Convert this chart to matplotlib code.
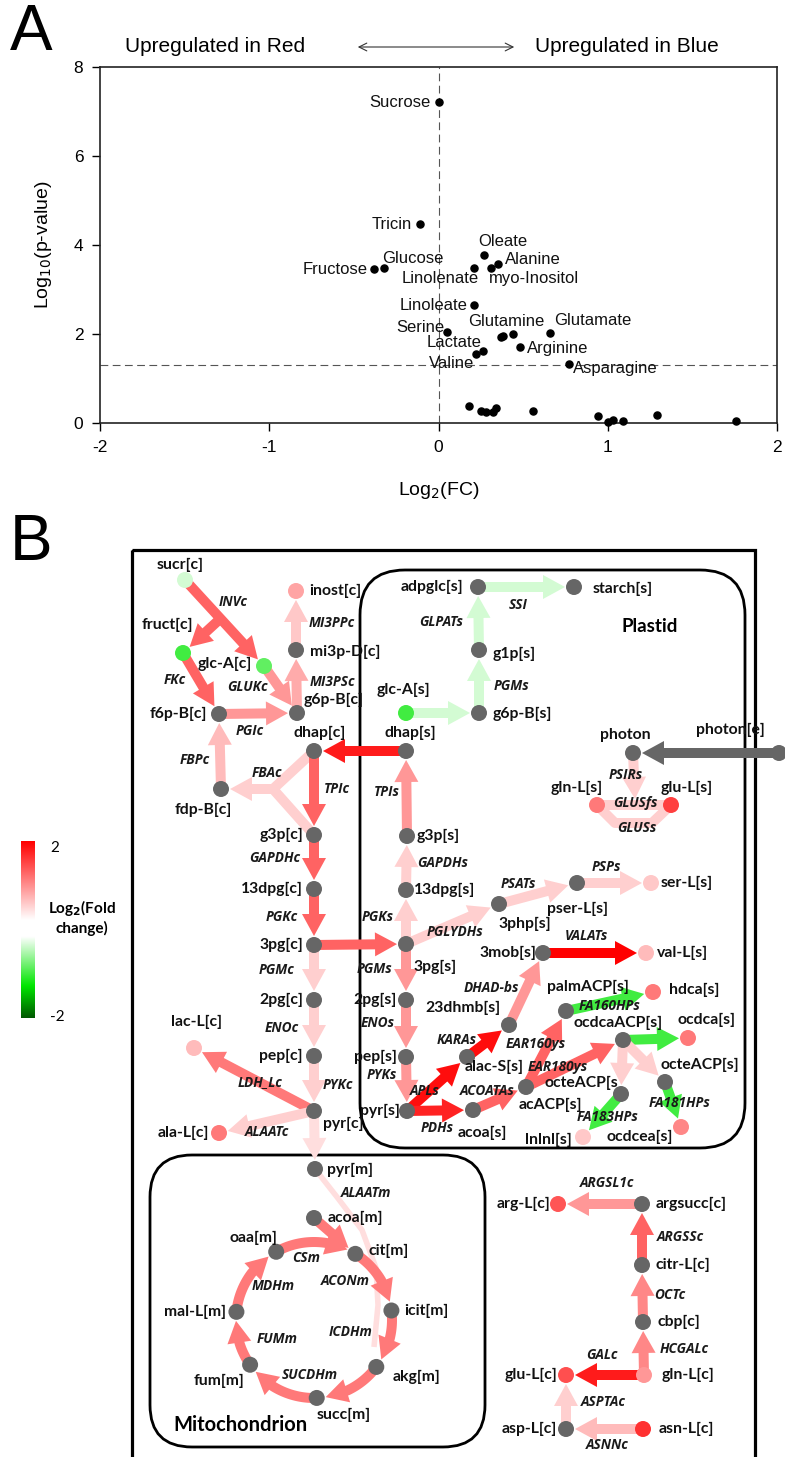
import numpy as np
import matplotlib
matplotlib.use('Agg')
import matplotlib.pyplot as plt
from matplotlib.colors import LinearSegmentedColormap, Normalize
from matplotlib.patches import Circle, Polygon, Rectangle, FancyBboxPatch

# ---------------- Panel A : volcano data ----------------
named = ['Sucrose', 'Tricin', 'Fructose', 'Glucose', 'Oleate', 'Alanine',
         'myo-Inositol', 'Linolenate', 'Linoleate', 'Serine', 'Glutamine',
         'Glutamate', 'Arginine', 'Lactate', 'Valine', 'Asparagine']
named_fc = [0.0, -0.11, -0.38, -0.32, 0.27, 0.35, 0.31, 0.21, 0.21, 0.05,
            0.38, 0.66, 0.48, 0.265, 0.22, 0.77]
named_p = [7.21, 4.47, 3.46, 3.48, 3.78, 3.57, 3.48, 3.48, 2.65, 2.04,
           1.96, 2.02, 1.71, 1.62, 1.55, 1.33]
other_fc = [0.37, 0.44, 0.18, 0.25, 0.28, 0.32, 0.34, 0.56, 0.94, 1.0,
            1.03, 1.09, 1.29, 1.76]
other_p = [1.93, 2.0, 0.38, 0.27, 0.24, 0.25, 0.33, 0.27, 0.16, 0.02,
           0.07, 0.05, 0.19, 0.04]
p_cut = 1.3

# label offsets (pixels, dx right / dy up) and alignment
lab_off = {'Sucrose': (-8, 0, 'right'), 'Tricin': (-8, 0, 'right'),
           'Fructose': (-7, 0, 'right'), 'Glucose': (-2, 10, 'left'),
           'Oleate': (19, 13, 'center'), 'Alanine': (7, 5, 'left'),
           'myo-Inositol': (-2, -10, 'left'), 'Linolenate': (-34, -10, 'center'),
           'Linoleate': (-7, 0, 'right'), 'Serine': (-3, 5, 'right'),
           'Glutamine': (3, 14, 'center'), 'Glutamate': (4, 13, 'left'),
           'Arginine': (7, -2, 'left'), 'Lactate': (-2, 8, 'right'),
           'Valine': (-2, -9, 'right'), 'Asparagine': (4, -5, 'left')}

# ---------------- Panel B : network data ----------------
# metabolite log2 fold changes (None = not measured, grey)
node_fc = {
    'sucr[c]': -0.35, 'fruct[c]': -1.0, 'glc-A[c]': -0.85, 'inost[c]': 0.85,
    'mi3p-D[c]': None, 'g6p-B[c]': None, 'f6p-B[c]': None, 'fdp-B[c]': None,
    'dhap[c]': None, 'dhap[s]': None, 'g3p[c]': None, '13dpg[c]': None,
    '3pg[c]': None, '2pg[c]': None, 'pep[c]': None, 'pyr[c]': None,
    'lac-L[c]': 0.7, 'ala-L[c]': 1.15, 'glc-A[s]': -1.0, 'adpglc[s]': None,
    'starch[s]': None, 'g1p[s]': None, 'g6p-B[s]': None, 'photon': None,
    'photon[e]': None, 'gln-L[s]': 1.15, 'glu-L[s]': 1.55, 'g3p[s]': None,
    '13dpg[s]': None, '3pg[s]': None, '2pg[s]': None, 'pep[s]': None,
    'pyr[s]': None, '3php[s]': None, 'pser-L[s]': None, 'ser-L[s]': 0.6,
    '3mob[s]': None, 'val-L[s]': 0.7, '23dhmb[s]': None, 'alac-S[s]': None,
    'acoa[s]': None, 'acACP[s]': None, 'palmACP[s]': None, 'hdca[s]': 1.15,
    'ocdcaACP[s]': None, 'ocdca[s]': 1.15, 'octeACP[s]': None,
    'octeACP[s': None, 'lnlnl[s]': 0.6, 'ocdcea[s]': 1.05,
    'pyr[m]': None, 'acoa[m]': None, 'oaa[m]': None, 'cit[m]': None,
    'icit[m]': None, 'akg[m]': None, 'succ[m]': None, 'fum[m]': None,
    'mal-L[m]': None, 'arg-L[c]': 1.4, 'argsucc[c]': None, 'citr-L[c]': None,
    'cbp[c]': None, 'gln-L[c]': 0.95, 'glu-L[c]': 1.45, 'asp-L[c]': None,
    'asn-L[c]': 1.65}

# reactions: (label, path of metabolites / waypoints, flux log2 fold change, arrow head)
reactions = [
    ('INVc', ['sucr[c]', 'glc-A[c]'], 1.3, True),
    ('', [(220, 619), 'fruct[c]'], 1.3, True),
    ('FKc', ['fruct[c]', 'f6p-B[c]'], 1.3, True),
    ('GLUKc', ['glc-A[c]', 'g6p-B[c]'], 0.95, True),
    ('PGIc', ['f6p-B[c]', 'g6p-B[c]'], 0.95, True),
    ('MI3PSc', ['g6p-B[c]', 'mi3p-D[c]'], 0.8, True),
    ('MI3PPc', ['mi3p-D[c]', 'inost[c]'], 0.6, True),
    ('FBPc', ['fdp-B[c]', 'f6p-B[c]'], 0.7, True),
    ('', ['dhap[c]', (273, 789)], 0.55, False),
    ('', ['g3p[c]', (273, 789)], 0.55, False),
    ('FBAc', [(273, 789), 'fdp-B[c]'], 0.55, True),
    ('TPIc', ['dhap[c]', 'g3p[c]'], 1.3, True),
    ('', ['dhap[s]', 'dhap[c]'], 1.8, True),
    ('TPIs', ['g3p[s]', 'dhap[s]'], 0.95, True),
    ('GLPATs', ['g1p[s]', 'adpglc[s]'], -0.35, True),
    ('SSI', ['adpglc[s]', 'starch[s]'], -0.35, True),
    ('PGMs', ['g6p-B[s]', 'g1p[s]'], -0.35, True),
    ('', ['glc-A[s]', 'g6p-B[s]'], -0.35, True),
    ('', ['photon[e]', 'photon'], None, True),
    ('PSIRs', ['photon', (635, 799)], 0.55, True),
    ('GLUSfs', ['gln-L[s]', 'glu-L[s]'], 0.55, False),
    ('GLUSs', ['gln-L[s]', (615, 823), (652, 823), 'glu-L[s]'], 0.55, False),
    ('GAPDHc', ['g3p[c]', '13dpg[c]'], 1.3, True),
    ('PGKc', ['13dpg[c]', '3pg[c]'], 1.3, True),
    ('PGMc', ['3pg[c]', '2pg[c]'], 0.55, True),
    ('ENOc', ['2pg[c]', 'pep[c]'], 0.55, True),
    ('PYKc', ['pep[c]', 'pyr[c]'], 0.55, True),
    ('LDH_Lc', ['pyr[c]', 'lac-L[c]'], 1.15, True),
    ('ALAATc', ['pyr[c]', 'ala-L[c]'], 0.55, True),
    ('', ['3pg[c]', '3pg[s]'], 1.3, True),
    ('GAPDHs', ['13dpg[s]', 'g3p[s]'], 0.55, True),
    ('PGKs', ['3pg[s]', '13dpg[s]'], 0.55, True),
    ('PGLYDHs', ['3pg[s]', '3php[s]'], 0.55, True),
    ('PSATs', ['3php[s]', 'pser-L[s]'], 0.55, True),
    ('PSPs', ['pser-L[s]', 'ser-L[s]'], 0.55, True),
    ('PGMs ', ['3pg[s]', '2pg[s]'], 0.95, True),
    ('ENOs', ['2pg[s]', 'pep[s]'], 0.95, True),
    ('PYKs', ['pep[s]', 'pyr[s]'], 0.95, True),
    ('APLs', ['pyr[s]', 'alac-S[s]'], 1.9, True),
    ('KARAs', ['alac-S[s]', '23dhmb[s]'], 1.9, True),
    ('DHAD-bs', ['23dhmb[s]', '3mob[s]'], 0.95, True),
    ('VALATs', ['3mob[s]', 'val-L[s]'], 2.0, True),
    ('PDHs', ['pyr[s]', 'acoa[s]'], 1.75, True),
    ('ACOATAs', ['acoa[s]', 'acACP[s]'], 1.3, True),
    ('EAR160ys', ['acACP[s]', 'palmACP[s]'], 1.3, True),
    ('EAR180ys', ['acACP[s]', 'ocdcaACP[s]'], 1.3, True),
    ('FA160HPs', ['palmACP[s]', 'hdca[s]'], -1.0, True),
    ('', ['ocdcaACP[s]', 'ocdca[s]'], -1.0, True),
    ('', ['ocdcaACP[s]', 'octeACP[s'], 0.55, True),
    ('', ['ocdcaACP[s]', 'octeACP[s]'], 0.55, True),
    ('FA181HPs', ['octeACP[s]', 'ocdcea[s]'], -1.0, True),
    ('FA183HPs', ['octeACP[s', 'lnlnl[s]'], -1.0, True),
    ('', ['pyr[c]', 'pyr[m]'], 0.45, True),
    ('', ['acoa[m]', 'cit[m]'], 1.15, True),
    ('ARGSL1c', ['argsucc[c]', 'arg-L[c]'], 0.95, True),
    ('ARGSSc', ['citr-L[c]', 'argsucc[c]'], 1.3, True),
    ('OCTc', ['cbp[c]', 'citr-L[c]'], 1.05, True),
    ('HCGALc', ['gln-L[c]', 'cbp[c]'], 1.05, True),
    ('GALc', ['gln-L[c]', 'glu-L[c]'], 1.8, True),
    ('ASPTAc', ['asp-L[c]', 'glu-L[c]'], 0.55, True),
    ('ASNNc', ['asn-L[c]', 'asp-L[c]'], 0.7, True),
]
alaatm = ('ALAATm', ['pyr[m]', (337, 1197), (362, 1230), (376, 1268),
                     (378, 1305), (374, 1347)], 0.45)

# TCA cycle, metabolites in order round the ring
tca_nodes = ['oaa[m]', 'cit[m]', 'icit[m]', 'akg[m]', 'succ[m]', 'fum[m]', 'mal-L[m]']
tca_fc = 1.15

# ---------------- layout (pixel positions) ----------------
layout = {
    'sucr[c]': (185, 580), 'fruct[c]': (183, 653), 'glc-A[c]': (264, 666),
    'inost[c]': (296, 591), 'mi3p-D[c]': (296, 650), 'g6p-B[c]': (297, 713),
    'f6p-B[c]': (219, 714), 'fdp-B[c]': (221, 789), 'dhap[c]': (314, 751),
    'dhap[s]': (406, 751), 'g3p[c]': (314, 835), '13dpg[c]': (314, 889),
    '3pg[c]': (314, 945), '2pg[c]': (314, 1000), 'pep[c]': (314, 1056),
    'pyr[c]': (314, 1111), 'lac-L[c]': (194, 1048), 'ala-L[c]': (219, 1133),
    'glc-A[s]': (406, 713), 'adpglc[s]': (478, 587), 'starch[s]': (574, 587),
    'g1p[s]': (479, 650), 'g6p-B[s]': (479, 713), 'photon': (633, 753),
    'photon[e]': (779, 753), 'gln-L[s]': (597, 805), 'glu-L[s]': (671, 805),
    'g3p[s]': (407, 836), '13dpg[s]': (406, 890), '3pg[s]': (406, 944),
    '2pg[s]': (406, 1000), 'pep[s]': (406, 1057), 'pyr[s]': (407, 1111),
    '3php[s]': (499, 904), 'pser-L[s]': (577, 883), 'ser-L[s]': (651, 883),
    '3mob[s]': (543, 953), 'val-L[s]': (646, 953), '23dhmb[s]': (509, 1025),
    'alac-S[s]': (467, 1057), 'acoa[s]': (473, 1110), 'acACP[s]': (526, 1087),
    'palmACP[s]': (566, 1011), 'hdca[s]': (653, 992), 'ocdcaACP[s]': (623, 1040),
    'ocdca[s]': (688, 1038), 'octeACP[s]': (665, 1082), 'octeACP[s': (621, 1094),
    'lnlnl[s]': (583, 1137), 'ocdcea[s]': (681, 1127), 'pyr[m]': (315, 1169),
    'acoa[m]': (314, 1218), 'arg-L[c]': (558, 1204), 'argsucc[c]': (642, 1204),
    'citr-L[c]': (642, 1265), 'cbp[c]': (643, 1322), 'gln-L[c]': (644, 1375),
    'glu-L[c]': (566, 1375), 'asp-L[c]': (566, 1429), 'asn-L[c]': (643, 1429)}
tca_center = np.array([314.0, 1320.0])
tca_r = 78.0
tca_ang = np.radians([-119, -58, -7, 37, 88, 145, 186])
for n, a in zip(tca_nodes, tca_ang):
    layout[n] = tuple(tca_center + tca_r * np.array([np.cos(a), np.sin(a)]))

node_lab = {
    'sucr[c]': (-5, -15, 'center'), 'fruct[c]': (-16, -28, 'center'),
    'glc-A[c]': (-12, -2, 'right'), 'inost[c]': (13, 0, 'left'),
    'mi3p-D[c]': (14, 2, 'left'), 'g6p-B[c]': (7, -13, 'left'),
    'f6p-B[c]': (-12, 0, 'right'), 'fdp-B[c]': (-18, 21, 'center'),
    'dhap[c]': (6, -18, 'center'), 'dhap[s]': (4, -18, 'center'),
    'g3p[c]': (-11, 0, 'right'), '13dpg[c]': (-11, 0, 'right'),
    '3pg[c]': (-11, 0, 'right'), '2pg[c]': (-11, 0, 'right'),
    'pep[c]': (-11, 0, 'right'), 'pyr[c]': (29, 13, 'center'),
    'lac-L[c]': (3, -26, 'center'), 'ala-L[c]': (-10, 0, 'right'),
    'glc-A[s]': (-3, -23, 'center'), 'adpglc[s]': (-15, 0, 'right'),
    'starch[s]': (19, 2, 'left'), 'g1p[s]': (14, 4, 'left'),
    'g6p-B[s]': (14, 1, 'left'), 'photon': (-8, -18, 'center'),
    'photon[e]': (-49, -23, 'center'), 'gln-L[s]': (-20, -17, 'center'),
    'glu-L[s]': (16, -17, 'center'), 'g3p[s]': (10, 0, 'left'),
    '13dpg[s]': (8, 0, 'left'), '3pg[s]': (7, 23, 'left'),
    '2pg[s]': (-9, 0, 'right'), 'pep[s]': (-9, 0, 'right'),
    'pyr[s]': (-7, 0, 'right'), '3php[s]': (26, 20, 'center'),
    'pser-L[s]': (0, 26, 'center'), 'ser-L[s]': (10, 0, 'left'),
    '3mob[s]': (-7, 0, 'right'), 'val-L[s]': (11, 0, 'left'),
    '23dhmb[s]': (-46, -17, 'center'), 'alac-S[s]': (27, 10, 'center'),
    'acoa[s]': (9, 23, 'center'), 'acACP[s]': (24, 18, 'center'),
    'palmACP[s]': (22, -24, 'center'), 'hdca[s]': (16, -2, 'left'),
    'ocdcaACP[s]': (-5, -17, 'center'), 'ocdca[s]': (19, -18, 'center'),
    'octeACP[s]': (35, -17, 'center'), 'octeACP[s': (-3, -11, 'right'),
    'lnlnl[s]': (-11, 3, 'right'), 'ocdcea[s]': (-41, 10, 'center'),
    'pyr[m]': (12, 1, 'left'), 'acoa[m]': (14, 0, 'left'),
    'cit[m]': (13, -3, 'left'), 'oaa[m]': (-23, -14, 'center'),
    'icit[m]': (13, 0, 'left'), 'akg[m]': (40, 10, 'center'),
    'succ[m]': (27, 17, 'center'), 'fum[m]': (-31, 16, 'center'),
    'mal-L[m]': (-10, 0, 'right'), 'arg-L[c]': (-8, 0, 'right'),
    'argsucc[c]': (14, 0, 'left'), 'citr-L[c]': (14, 0, 'left'),
    'cbp[c]': (14, 0, 'left'), 'gln-L[c]': (18, 0, 'left'),
    'glu-L[c]': (-9, 0, 'right'), 'asp-L[c]': (-9, 0, 'right'),
    'asn-L[c]': (16, 0, 'left')}

rxn_lab = {
    'INVc': (233, 602), 'FKc': (175, 680), 'GLUKc': (247, 687), 'PGIc': (250, 731),
    'MI3PSc': (332, 682), 'MI3PPc': (332, 623), 'FBPc': (195, 760), 'FBAc': (267, 773),
    'TPIc': (337, 789), 'TPIs': (387, 792), 'GLPATs': (441, 622), 'SSI': (518, 605),
    'PGMs': (512, 686), 'PSIRs': (626, 775), 'GLUSfs': (635, 803), 'GLUSs': (637, 828),
    'GAPDHc': (275, 858), 'PGKc': (282, 917), 'PGMc': (277, 970), 'ENOc': (282, 1028),
    'PYKc': (338, 1085), 'LDH_Lc': (260, 1082), 'ALAATc': (267, 1132),
    'GAPDHs': (443, 863), 'PGKs': (378, 917), 'PGLYDHs': (455, 932), 'PSATs': (518, 884),
    'PSPs': (606, 867), 'PGMs ': (375, 969), 'ENOs': (378, 1023), 'PYKs': (382, 1075),
    'APLs': (425, 1091), 'KARAs': (457, 1040), 'DHAD-bs': (491, 988),
    'VALATs': (586, 936), 'PDHs': (437, 1128), 'ACOATAs': (487, 1091),
    'EAR160ys': (536, 1044), 'EAR180ys': (558, 1067), 'FA160HPs': (610, 1006),
    'FA181HPs': (680, 1103), 'FA183HPs': (608, 1117), 'ALAATm': (366, 1193),
    'CSm': (306, 1258), 'ACONm': (345, 1281), 'ICDHm': (351, 1332),
    'SUCDHm': (310, 1375), 'FUMm': (277, 1339), 'MDHm': (273, 1286),
    'ARGSL1c': (607, 1183), 'ARGSSc': (680, 1237), 'OCTc': (670, 1295),
    'HCGALc': (684, 1349), 'GALc': (602, 1355), 'ASPTAc': (603, 1402),
    'ASNNc': (607, 1445)}

# colour scale for log2 fold change
fc_cmap = LinearSegmentedColormap.from_list(
    'fc', [(0, '#005800'), (0.18, '#00e600'), (0.46, '#ffffff'),
           (0.555, '#ffffff'), (1, '#ff0000')])
fc_norm = Normalize(-2, 2)
GREY = '#666666'
R_NODE = 8


def fc_color(v):
    if v is None:
        return GREY
    return fc_cmap(fc_norm(v))


def fat_arrow(ax, pts, color, head=True, w=10, hw=24, hl=22, z=2):
    pts = np.asarray(pts, float)
    if head:
        seg = np.diff(pts, axis=0)
        lens = np.hypot(seg[:, 0], seg[:, 1])
        remain = hl
        i = len(seg) - 1
        while i > 0 and lens[i] < remain:
            remain -= lens[i]
            i -= 1
        base = pts[i + 1] - seg[i] / lens[i] * remain
        tip = pts[-1]
        d = (tip - base) / np.hypot(*(tip - base))
        nrm = np.array([-d[1], d[0]])
        ax.add_patch(Polygon([base + nrm * hw / 2, tip, base - nrm * hw / 2],
                             closed=True, fc=color, ec='none', zorder=z))
        shaft = np.vstack([pts[:i + 1], base + d * 1.5])
    else:
        shaft = pts
    ax.plot(shaft[:, 0], shaft[:, 1], color=color, lw=w * 0.72,
            solid_capstyle='butt', solid_joinstyle='round', zorder=z)


def path_points(path, head):
    pts = [np.array(layout[p] if isinstance(p, str) else p, float) for p in path]
    if head and isinstance(path[-1], str):
        u = pts[-1] - pts[-2]
        u /= np.hypot(*u)
        pts[-1] = pts[-1] - u * (R_NODE + 1)
    return pts


plt.rcParams['font.family'] = ['Liberation Sans', 'DejaVu Sans']
plt.rcParams['axes.unicode_minus'] = False
fig = plt.figure(figsize=(7.85, 14.57), dpi=100)

# full-figure canvas in pixel units for panel B and headings
axB = fig.add_axes([0, 0, 1, 1])
axB.set_xlim(0, 785)
axB.set_ylim(1457, 0)
axB.axis('off')

# ---------------- Panel A ----------------
axA = fig.add_axes([100 / 785, 1 - 423 / 1457, 677 / 785, 356 / 1457])
axA.axvline(0, color='#555555', lw=0.8, dashes=(7, 4), zorder=1)
axA.axhline(p_cut, color='#555555', lw=0.8, dashes=(7, 4), zorder=1)
axA.scatter(named_fc, named_p, s=26, color='black', zorder=3, clip_on=False)
axA.scatter(other_fc, other_p, s=26, color='black', zorder=3, clip_on=False)
for n, x, y in zip(named, named_fc, named_p):
    dx, dy, ha = lab_off[n]
    axA.annotate(n, (x, y), xytext=(dx * 0.72, dy * 0.72), textcoords='offset points',
                 ha=ha, va='center', fontsize=12, color='#111111', zorder=4)
axA.set_xlim(-2, 2)
axA.set_ylim(0, 8)
axA.set_xticks([-2, -1, 0, 1, 2])
axA.set_yticks([0, 2, 4, 6, 8])
axA.tick_params(direction='out', length=6, width=1, labelsize=12.5, pad=6)
for s in axA.spines.values():
    s.set_linewidth(1.2)
    s.set_color('#222222')
axA.set_xlabel('Log$_2$(FC)', fontsize=14, labelpad=18)
axA.set_ylabel('Log$_{10}$(p-value)', fontsize=14, labelpad=14)

axB.text(10, 33, 'A', fontsize=46, ha='left', va='center')
axB.text(215, 47, 'Upregulated in Red', fontsize=15, ha='center', va='center')
axB.text(627, 47, 'Upregulated in Blue', fontsize=15, ha='center', va='center')
axB.annotate('', xy=(517, 47), xytext=(355, 47),
             arrowprops=dict(arrowstyle='<->', lw=0.8, color='#333333',
                             mutation_scale=14))

# ---------------- Panel B ----------------
axB.text(10, 543, 'B', fontsize=46, ha='left', va='center')
axB.add_patch(Rectangle((132, 550), 623, 1000, fill=False, ec='black', lw=2.3, zorder=1))
axB.add_patch(FancyBboxPatch((360, 570), 385, 578, boxstyle='round,pad=0,rounding_size=45',
                             fill=False, ec='black', lw=2.0, zorder=1))
axB.add_patch(FancyBboxPatch((150, 1155), 335, 292, boxstyle='round,pad=0,rounding_size=42',
                             fill=False, ec='black', lw=2.0, zorder=1))

bfont = ['Lato', 'DejaVu Sans']
rfont = ['Open Sans', 'DejaVu Sans']
axB.text(650, 626, 'Plastid', fontsize=13.5, weight='bold', family=bfont,
         ha='center', va='center', zorder=5)
axB.text(240, 1425, 'Mitochondrion', fontsize=14.5, weight='bold', family=bfont,
         ha='center', va='center', zorder=5)

for lab, path, v, head in reactions:
    fat_arrow(axB, path_points(path, head), fc_color(v), head=head)

lab, path, v = alaatm
axB.plot(*np.array(path_points(path, False)).T, color=fc_color(v), lw=4, zorder=1.8,
         solid_capstyle='butt')

# TCA arcs
dth = (R_NODE + 1) / tca_r
for k in range(len(tca_nodes)):
    a1 = tca_ang[k]
    a2 = tca_ang[(k + 1) % len(tca_nodes)]
    if a2 < a1:
        a2 += 2 * np.pi
    th = np.linspace(a1, a2 - dth, 40)
    arc = tca_center + tca_r * np.column_stack([np.cos(th), np.sin(th)])
    fat_arrow(axB, arc, fc_color(tca_fc))

for n, v in node_fc.items():
    x, y = layout[n]
    axB.add_patch(Circle((x, y), R_NODE, fc=fc_color(v), ec='none', zorder=3))
    dx, dy, ha = node_lab[n]
    axB.text(x + dx, y + dy, n, fontsize=11.3, weight='bold', family=bfont,
             ha=ha, va='center', color='#111111', zorder=5)

for lab, (x, y) in rxn_lab.items():
    axB.text(x, y, lab.strip(), fontsize=9.8, weight='bold', style='italic', family=rfont,
             ha='center', va='center', color='#1a1a1a', zorder=5)

# colour bar
grad = np.linspace(2, -2, 256).reshape(-1, 1)
axB.imshow(grad, cmap=fc_cmap, norm=fc_norm, extent=(21, 35, 1018, 841),
           aspect='auto', zorder=2)
axB.set_xlim(0, 785)
axB.set_ylim(1457, 0)
axB.text(50, 848, '2', fontsize=11, ha='left', va='center', family=bfont)
axB.text(50, 1017, '-2', fontsize=11, ha='left', va='center', family=bfont)
axB.text(82, 917, 'Log$_\\mathbf{2}$(Fold\nchange)', fontsize=11, weight='bold',
         family=bfont, ha='center', va='center', linespacing=1.2)

fig.savefig('out.png', dpi=100)
